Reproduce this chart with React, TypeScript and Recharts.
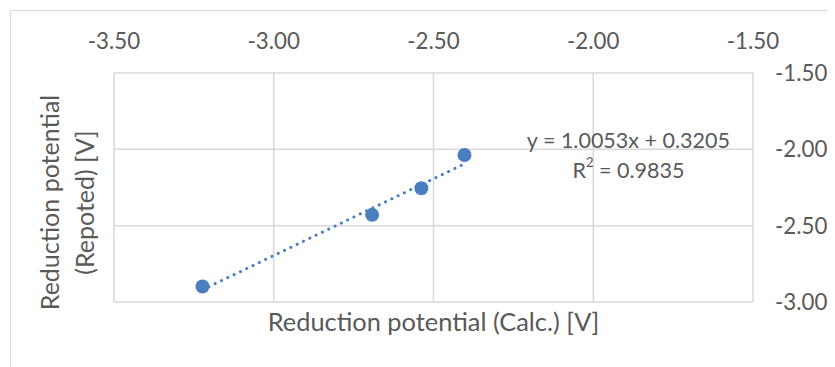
import {
  ScatterChart,
  Scatter,
  XAxis,
  YAxis,
  CartesianGrid,
  ReferenceDot,
} from "recharts";

// reduction potentials
const calcX = [-3.223, -2.692, -2.538, -2.403];
const reportedY = [-2.898, -2.429, -2.255, -2.037];

// linear trendline ends (y = 1.0053x + 0.3205)
const trendX = [-3.223, -2.403];
const trendY = [-2.92, -2.095];

const xTicks = [-3.5, -3.0, -2.5, -2.0, -1.5];
const yTicks = [-3.0, -2.5, -2.0, -1.5];

const equation = "y = 1.0053x + 0.3205";
const rSquared = "0.9835";

const BLUE = "#4a7ebf";
const GRAY = "#595959";
const GRID = "#d9d9d9";
const FONT = "Lato, 'Open Sans', sans-serif";

const points = calcX.map((x, i) => ({ x, y: reportedY[i] }));
const trend = trendX.map((x, i) => ({ x, y: trendY[i] }));

const fmt = (v: number) => v.toFixed(2);

export default function App() {
  return (
    <div style={{ width: 827, height: 359, overflow: "hidden", position: "relative" }}>
      <div
        style={{
          position: "absolute",
          left: 2,
          top: 2,
          width: 900,
          height: 420,
          border: `1.5px solid ${GRID}`,
          boxSizing: "border-box",
        }}
      />
      <ScatterChart
        width={827}
        height={359}
        margin={{ top: 0, right: 0, bottom: 0, left: 0 }}
        style={{ position: "absolute", left: 0, top: 0, fontFamily: FONT }}
      >
        <CartesianGrid xAxisId="t" yAxisId="r" stroke={GRID} strokeWidth={1.5} />
        <XAxis
          xAxisId="t"
          orientation="top"
          type="number"
          dataKey="x"
          domain={[-3.5, -1.5]}
          ticks={xTicks}
          tickFormatter={fmt}
          axisLine={false}
          tickLine={false}
          tickSize={0}
          tickMargin={24}
          height={65}
          tick={{ fill: GRAY, fontSize: 22.3 }}
        />
        <XAxis
          xAxisId="b"
          orientation="bottom"
          type="number"
          domain={[-3.5, -1.5]}
          tick={false}
          axisLine={false}
          tickLine={false}
          height={65}
          label={{
            content: ({ viewBox }: any) => (
              <text
                x={viewBox.x + viewBox.width / 2}
                y={viewBox.y + 29}
                textAnchor="middle"
                fill={GRAY}
                fontSize={25.4}
              >
                Reduction potential (Calc.) [V]
              </text>
            ),
          }}
        />
        <YAxis
          yAxisId="r"
          orientation="right"
          type="number"
          dataKey="y"
          domain={[-3.0, -1.5]}
          ticks={yTicks}
          tickFormatter={fmt}
          axisLine={false}
          tickLine={false}
          tickSize={0}
          tickMargin={22}
          width={82}
          tick={{ fill: GRAY, fontSize: 22.3 }}
        />
        <YAxis
          yAxisId="l"
          orientation="left"
          type="number"
          domain={[-3.0, -1.5]}
          tick={false}
          axisLine={false}
          tickLine={false}
          width={106}
          label={{
            content: ({ viewBox }: any) => {
              const cy = viewBox.y + viewBox.height / 2 + 15;
              return (
                <g fill={GRAY} fontSize={25}>
                  <text
                    x={41}
                    y={cy}
                    textAnchor="middle"
                    dominantBaseline="central"
                    transform={`rotate(-90 41 ${cy})`}
                  >
                    Reduction potential
                  </text>
                  <text
                    x={76}
                    y={cy}
                    textAnchor="middle"
                    dominantBaseline="central"
                    transform={`rotate(-90 76 ${cy})`}
                  >
                    (Repoted) [V]
                  </text>
                </g>
              );
            },
          }}
        />
        <Scatter
          xAxisId="t"
          yAxisId="r"
          data={points}
          fill={BLUE}
          isAnimationActive={false}
          shape={(p: any) => <circle cx={p.cx} cy={p.cy} r={7} fill={BLUE} />}
        />
        <Scatter
          xAxisId="t"
          yAxisId="r"
          data={trend}
          isAnimationActive={false}
          line={{
            stroke: BLUE,
            strokeWidth: 3,
            strokeDasharray: "0.1 6.9",
            strokeLinecap: "round",
          }}
          shape={() => <g />}
        />
        <ReferenceDot
          xAxisId="t"
          yAxisId="r"
          x={-1.89}
          y={-2.0}
          r={0}
          stroke="none"
          label={{
            content: ({ viewBox }: any) => (
              <g fill={GRAY} fontSize={21.5} textAnchor="middle">
                <text x={viewBox.x} y={viewBox.y - 9} dominantBaseline="central">
                  {equation}
                </text>
                <text x={viewBox.x} y={viewBox.y + 21} dominantBaseline="central">
                  R<tspan dy={-8} fontSize={13}>2</tspan>
                  <tspan dy={8}> = {rSquared}</tspan>
                </text>
              </g>
            ),
          }}
        />
      </ScatterChart>
    </div>
  );
}
